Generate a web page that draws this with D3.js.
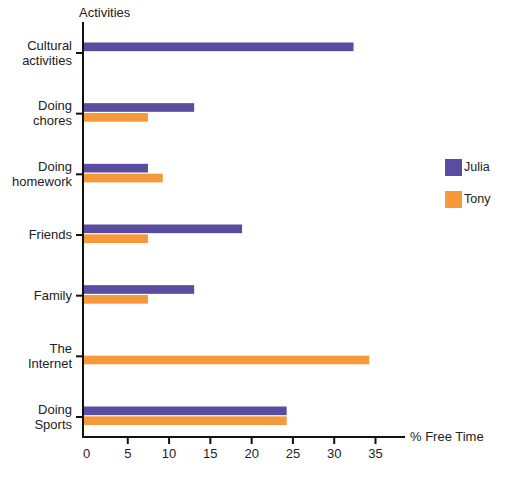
<!DOCTYPE html>
<html>
<head>
<meta charset="utf-8">
<script src="https://cdn.jsdelivr.net/npm/d3@7"></script>
<style>
  body { margin: 0; background: #fff; }
  text { font-family: "Liberation Sans", Arial, sans-serif; fill: #222; }
</style>
</head>
<body>
<div id="chart"></div>
<script>
// chart data
var activities = ["Cultural activities", "Doing chores", "Doing homework", "Friends", "Family", "The Internet", "Doing Sports"];
var activityLines = [["Cultural", "activities"], ["Doing", "chores"], ["Doing", "homework"], ["Friends"], ["Family"], ["The", "Internet"], ["Doing", "Sports"]];
var people = ["Julia", "Tony"];
var julia = [32.4, 13.1, 7.5, 18.9, 13.1, null, 24.3];
var tony = [null, 7.5, 9.3, 7.5, 7.5, 34.3, 24.3];
var xTicks = [0, 5, 10, 15, 20, 25, 30, 35];

var width = 527, height = 481;
var colors = {"Julia": "#5a4c9f", "Tony": "#f5993a"};

var svg = d3.select("#chart")
  .append("svg")
    .attr("width", width)
    .attr("height", height);

// scales
var x = d3.scaleLinear().domain([0, 35]).range([86, 375]);
var y = d3.scalePoint().domain(activities).range([52.5, 416.5]);
var ySub = d3.scaleBand().domain(people).range([-10, 8.5]).paddingInner(0.12);

var axisX = 83;   // position of the vertical axis line
var axisY = 437;  // position of the horizontal axis line

// flatten into bar records
var bars = [];
activities.forEach(function(a, i) {
  if (julia[i] != null) bars.push({activity: a, person: "Julia", value: julia[i]});
  if (tony[i] != null) bars.push({activity: a, person: "Tony", value: tony[i]});
});

// draw bars
svg.append("g")
    .attr("class", "bars")
  .selectAll("rect")
  .data(bars)
  .enter()
  .append("rect")
    .attr("x", axisX)
    .attr("y", function(d) { return y(d.activity) + ySub(d.person); })
    .attr("width", function(d) { return x(d.value) - axisX; })
    .attr("height", ySub.bandwidth())
    .attr("fill", function(d) { return colors[d.person]; });

// y axis
var yAxis = svg.append("g")
    .attr("transform", "translate(" + axisX + ",0)")
    .call(d3.axisLeft(y).tickSize(7).tickPadding(4).tickFormat(""));
yAxis.select(".domain").remove();
yAxis.selectAll(".tick line").attr("stroke", "#111").attr("stroke-width", 2);

// multi-line category labels
yAxis.selectAll(".tick").each(function(d, i) {
  var lines = activityLines[i];
  var t = d3.select(this).select("text")
    .attr("x", -11)
    .attr("dy", null)
    .style("font-size", "13px")
    .style("fill", "#222")
    .attr("text-anchor", "end");
  lines.forEach(function(line, j) {
    var offset = lines.length == 1 ? 4 : (j == 0 ? -3.5 : 11.5);
    t.append("tspan")
      .attr("x", -11)
      .attr("y", offset)
      .text(line);
  });
});

svg.append("line")
  .attr("x1", axisX).attr("x2", axisX)
  .attr("y1", 22).attr("y2", axisY + 1)
  .attr("stroke", "#111")
  .attr("stroke-width", 2);

// x axis
var xAxis = svg.append("g")
    .attr("transform", "translate(0," + axisY + ")")
    .call(d3.axisBottom(x).tickValues(xTicks).tickSize(7).tickPadding(5));
xAxis.select(".domain").remove();
xAxis.selectAll(".tick line")
  .attr("stroke", "#111")
  .attr("stroke-width", 2)
  .attr("display", function(d) { return d == 0 ? "none" : null; });
xAxis.selectAll(".tick text")
  .style("font-size", "13px")
  .style("fill", "#222")
  .style("font-family", "'Liberation Sans', Arial, sans-serif");

svg.append("line")
  .attr("x1", axisX - 1).attr("x2", 405)
  .attr("y1", axisY).attr("y2", axisY)
  .attr("stroke", "#111")
  .attr("stroke-width", 2);

// axis titles
svg.append("text")
  .attr("x", 79)
  .attr("y", 17)
  .style("font-size", "13px")
  .text("Activities");

svg.append("text")
  .attr("x", 410)
  .attr("y", 441)
  .style("font-size", "13px")
  .text("% Free Time");

// legend
var legend = svg.append("g")
    .attr("class", "legend")
  .selectAll("g")
  .data(people)
  .enter()
  .append("g")
    .attr("transform", function(d, i) { return "translate(445," + (159 + i * 32) + ")"; });

legend.append("rect")
  .attr("width", 17)
  .attr("height", 17)
  .attr("fill", function(d) { return colors[d]; });

legend.append("text")
  .attr("x", 19)
  .attr("y", 12)
  .style("font-size", "12.5px")
  .text(function(d) { return d; });
</script>
</body>
</html>
